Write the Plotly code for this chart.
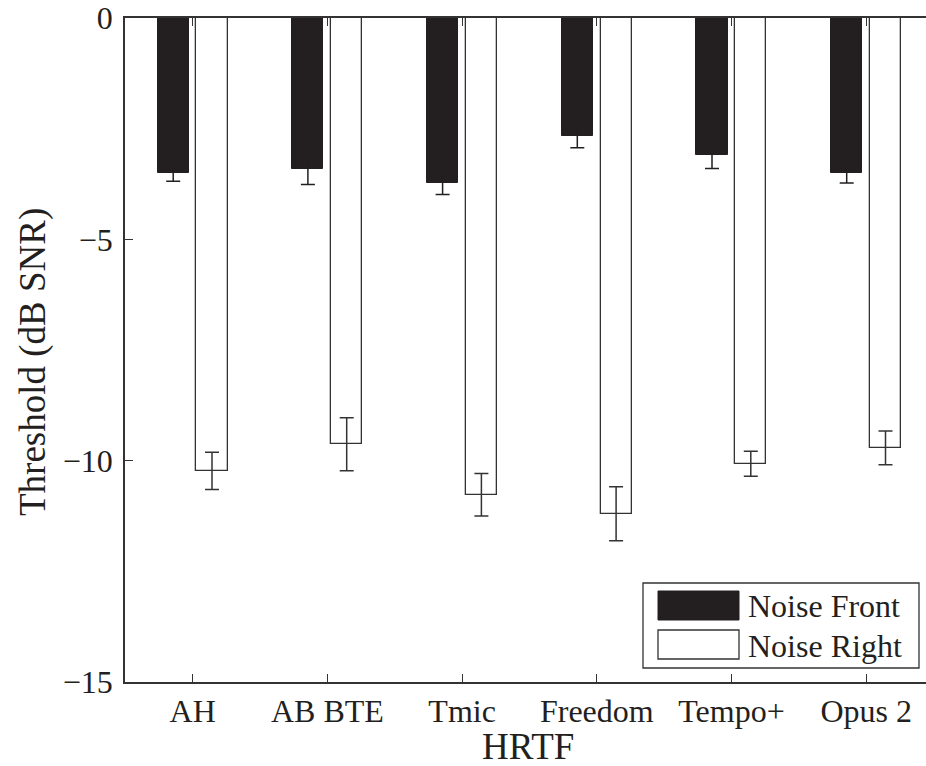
import plotly.graph_objects as go

categories = ["AH", "AB BTE", "Tmic", "Freedom", "Tempo+", "Opus 2"]
noise_front = [-3.50, -3.42, -3.72, -2.66, -3.09, -3.51]
noise_front_err = [0.19, 0.34, 0.27, 0.27, 0.31, 0.22]
noise_right = [-10.23, -9.63, -10.77, -11.20, -10.07, -9.71]
noise_right_err = [0.42, 0.60, 0.48, 0.61, 0.28, 0.38]
y_ticks = [0, -5, -10, -15]
y_tick_labels = ["0", "\u22125", "\u221210", "\u221215"]

W, H = 926, 766
L, T, B = 125, 18, 682
R = 926
pw, ph = R - L, B - T

def px(x):
    return (x - L) / pw

def py(y):
    return (B - y) / ph

FONT = "Liberation Serif, Times New Roman, serif"
INK = "#231f20"
AX = "#333333"

bw = 0.2316
fig = go.Figure()
fig.add_trace(go.Bar(
    x=categories, y=noise_front, width=bw, offset=-0.1448 - bw / 2,
    marker=dict(color=INK, line=dict(color=INK, width=1)),
    error_y=dict(type="data", array=noise_front_err, symmetric=True,
                 color=INK, thickness=1.5, width=7),
    name="Noise Front", showlegend=False,
))
fig.add_trace(go.Bar(
    x=categories, y=noise_right, width=bw, offset=0.1433 - bw / 2,
    marker=dict(color="white", line=dict(color=AX, width=1.3)),
    error_y=dict(type="data", array=noise_right_err, symmetric=True,
                 color=AX, thickness=1.5, width=7),
    name="Noise Right", showlegend=False,
))

left_c = -(192.7 - L) / 134.7
right_c = left_c + pw / 134.7

fig.update_layout(
    width=W, height=H,
    margin=dict(l=L, r=W - R, t=T, b=H - B, pad=0),
    paper_bgcolor="white", plot_bgcolor="white",
    barmode="overlay",
    font=dict(family=FONT, size=32, color="#231f20"),
    xaxis=dict(
        range=[left_c, right_c], showgrid=False, zeroline=False,
        showline=True, linecolor=AX, linewidth=1.5, mirror="ticks",
        ticks="inside", ticklen=8, tickwidth=1.2, tickcolor=AX,
        tickfont=dict(family=FONT, size=32), ticklabelstandoff=0,
    ),
    yaxis=dict(
        range=[-15, 0], showgrid=False, zeroline=False,
        showline=True, linecolor=AX, linewidth=1.5, mirror=False,
        ticks="inside", ticklen=8, tickwidth=1.2, tickcolor=AX,
        tickvals=y_ticks, ticktext=y_tick_labels,
        tickfont=dict(family=FONT, size=32), ticklabelstandoff=4,
    ),
    bargap=0,
)

annotations = [
    dict(text="HRTF", x=px(528), y=py(746), xref="paper", yref="paper",
         xanchor="center", yanchor="middle", showarrow=False,
         font=dict(family=FONT, size=37)),
    dict(text="Threshold (dB SNR)", x=px(33), y=py(362), xref="paper", yref="paper",
         xanchor="center", yanchor="middle", textangle=-90, showarrow=False,
         font=dict(family=FONT, size=37)),
    dict(text="Noise Front", x=px(746), y=py(606), xref="paper", yref="paper",
         xanchor="left", yanchor="middle", showarrow=False,
         font=dict(family=FONT, size=32)),
    dict(text="Noise Right", x=px(746), y=py(645.5), xref="paper", yref="paper",
         xanchor="left", yanchor="middle", showarrow=False,
         font=dict(family=FONT, size=32)),
]
shapes = [
    dict(type="rect", xref="paper", yref="paper", x0=px(643), x1=px(919),
         y0=py(668), y1=py(583), line=dict(color=AX, width=1.3), fillcolor="white",
         layer="above"),
    dict(type="rect", xref="paper", yref="paper", x0=px(658), x1=px(739),
         y0=py(620), y1=py(591), line=dict(color=INK, width=1), fillcolor=INK,
         layer="above"),
    dict(type="rect", xref="paper", yref="paper", x0=px(658), x1=px(739),
         y0=py(659), y1=py(630), line=dict(color=AX, width=1.3), fillcolor="white",
         layer="above"),
]
fig.update_layout(annotations=annotations, shapes=shapes)

fig.write_html("out.html")
